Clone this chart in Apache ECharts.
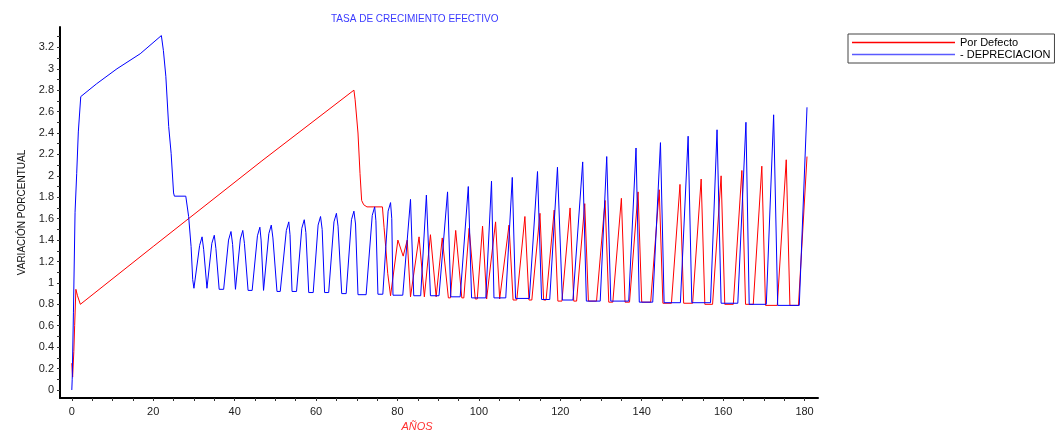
<!DOCTYPE html>
<html>
<head>
<meta charset="utf-8">
<script src="https://cdn.jsdelivr.net/npm/echarts@6/dist/echarts.min.js"></script>
<style>
html,body{margin:0;padding:0;background:#fff;}
#c{width:1056px;height:443px;}
</style>
</head>
<body>
<div id="c"></div>
<script>
// ---- data (vertices) ----
const depX = [0,0.1,0.4,0.8,1.2,1.6,2.2,6.1,11.1,16.8,22.0,22.5,23.1,23.8,24.4,25.0,25.2,28.0,28.7,29.3,29.7,30.0,
  31.4,32.0,32.4,33.2, 34.4,35.0,35.4,36.2,37.3, 38.5,39.1,39.5,40.2, 41.4,42.0,42.4,43.3,44.3, 45.6,46.2,46.5,47.1,
  48.4,49.0,49.4,50.4,51.2, 52.7,53.3,53.6,54.1,55.2, 56.5,57.1,57.5,58.2,59.3, 60.5,61.1,61.5,62.1,63.1,
  64.4,65.0,65.4,66.3,67.4, 68.7,69.3,69.7,70.3,72.3, 73.8,74.4,74.7,75.2,76.4, 77.7,78.3,78.6,78.9,81.3,
  83.2,84.0,85.7,87.1,88.1,90.2,92.3,93.1,95.4,97.4,98.2,101.7,
  103.1,103.7,106.6,108.2,109.0,112.4,114.4,115.4,117.4,119.3,120.5,123.1,125.5,126.4,129.8,131.4,132.4,136.8,138.6,139.4,142.7,
  144.6,145.5,149.5,151.4,152.3,156.9,158.5,159.5,163.6,165.6,166.4,170.6,172.4,173.4,178.7,180.6];
const depY = [0,0.1,0.72,1.66,2.02,2.41,2.74,2.86,3.0,3.14,3.31,3.17,2.93,2.46,2.21,1.84,1.81,1.81,1.62,1.34,1.03,0.95,
  1.35,1.43,1.31,0.95, 1.37,1.445,1.32,0.94,0.94, 1.40,1.48,1.36,0.94, 1.41,1.49,1.37,0.93,0.93, 1.44,1.52,1.40,0.93,
  1.46,1.54,1.42,0.92,0.92, 1.49,1.57,1.45,0.92,0.92, 1.51,1.59,1.47,0.91,0.91, 1.54,1.62,1.50,0.91,0.91,
  1.57,1.65,1.53,0.90,0.90, 1.59,1.67,1.55,0.89,0.89, 1.63,1.71,1.58,0.894,0.894, 1.67,1.75,1.60,0.885,0.885,
  1.78,0.88,0.88,1.82,0.88,0.88,1.85,0.87,0.87,1.90,0.86,0.86,
  1.95,0.86,0.86,1.985,0.855,0.855,2.04,0.845,0.845,2.08,0.84,0.84,2.13,0.83,0.83,2.18,0.83,0.83,2.26,0.82,0.82,
  2.31,0.815,0.815,2.37,0.815,0.815,2.43,0.81,0.81,2.50,0.80,0.80,2.57,0.79,0.79,2.64];

const defX = [0,0.2,0.5,0.7,1.0,1.4,2.1,20,46.7,69.3,69.6,70.3,70.8,71.2,71.7,72.5,76.3,76.7,77.1,77.6,78.3,80.1,81.4,82.4,83.2,
  85.3,86.6,88.1,89.5,91.0,92.5,93.0,94.3,95.8,96.3,97.6,99.1,99.6,100.9,101.9,102.1,104.1,105.1,105.4,107.4,108.4,109.3,111.3,
  112.3,113.0,115.0,115.9,116.5,118.5,119.4,120.4,122.4,123.3,124.0,126.0,126.9,128.9,131.0,131.9,132.9,135.0,135.9,137.0,139.1,
  140.0,142.2,144.3,145.2,147.3,149.4,150.3,152.5,154.6,155.5,157.4,159.5,160.4,162.5,164.6,165.5,167.4,169.5,170.4,173.3,175.5,
  176.4,178.5,180.6];
const defY = [0.25,0.12,0.36,0.6,0.94,0.88,0.80,1.34,2.14,2.80,2.71,2.40,2.02,1.77,1.73,1.71,1.71,1.52,1.34,1.09,0.88,1.40,1.25,1.40,0.87,
  1.43,0.87,1.45,0.87,1.42,0.86,0.86,1.49,0.86,0.86,1.51,0.85,0.85,1.53,0.85,0.85,1.57,0.85,0.85,1.54,0.84,0.84,1.62,
  0.84,0.84,1.65,0.84,0.84,1.68,0.83,0.83,1.70,0.83,0.83,1.74,0.83,0.83,1.77,0.82,0.82,1.79,0.82,0.82,1.85,
  0.82,0.82,1.87,0.81,0.81,1.92,0.81,0.81,1.97,0.80,0.80,2.00,0.80,0.80,2.05,0.80,0.80,2.09,0.79,0.79,2.15,
  0.79,0.79,2.18];

const seriesNames = ['Por Defecto', '- DEPRECIACION'];
const xLabelValues = [0,20,40,60,80,100,120,140,160,180];
const xTickValues = [0,5,10,15,20,25,30,35,40,45,50,55,60,65,70,75,80,85,90,95,100,105,110,115,120,125,130,135,140,145,150,155,160,165,170,175,180];
const yLabelValues = [0,0.2,0.4,0.6,0.8,1,1.2,1.4,1.6,1.8,2,2.2,2.4,2.6,2.8,3,3.2];
const yTickValues = [0,0.1,0.2,0.3,0.4,0.5,0.6,0.7,0.8,0.9,1,1.1,1.2,1.3,1.4,1.5,1.6,1.7,1.8,1.9,2,2.1,2.2,2.3,2.4,2.5,2.6,2.7,2.8,2.9,3,3.1,3.2,3.3];

function pairs(xs, ys){ return xs.map((x,i)=>[x, ys[i]]); }

const chart = echarts.init(document.getElementById('c'), null, {renderer:'canvas'});
const FONT = 'Liberation Sans, Arial, sans-serif';
chart.setOption({
  animation:false,
  backgroundColor:'#ffffff',
  title:{
    text:'TASA DE CRECIMIENTO EFECTIVO',
    left:326, top:9,
    textStyle:{color:'#3a3aff', fontSize:10, fontWeight:'normal', fontFamily:FONT}
  },
  legend:{
    orient:'vertical',
    left:848, top:34,
    padding:[3,4,3,4],
    itemGap:1,
    itemWidth:103, itemHeight:1.5,
    icon:'rect',
    borderColor:'#444', borderWidth:1,
    textStyle:{color:'#000', fontSize:11, fontFamily:FONT, padding:[0,0,0,0]},
    data:seriesNames
  },
  grid:{left:60, right:238, top:27, bottom:45, containLabel:false},
  xAxis:{
    type:'value', min:-2.9, max:183.3,
    name:'AÑOS', nameLocation:'middle', nameGap:22,
    nameTextStyle:{color:'#ff3030', fontStyle:'italic', fontSize:11, fontFamily:FONT, padding:[0,44,0,0]},
    axisLine:{show:true, onZero:false, lineStyle:{color:'#000', width:2}},
    axisTick:{show:true, length:3, customValues:xTickValues, lineStyle:{color:'#333'}},
    axisLabel:{customValues:xLabelValues, color:'#222', fontSize:11, fontFamily:FONT, margin:8},
    splitLine:{show:false}
  },
  yAxis:{
    type:'value', min:-0.075, max:3.39,
    name:'VARIACIÓN PORCENTUAL', nameLocation:'middle', nameRotate:90, nameGap:33,
    nameTextStyle:{color:'#111', fontSize:10, fontFamily:FONT},
    axisLine:{show:true, onZero:false, lineStyle:{color:'#000', width:2}},
    axisTick:{show:true, length:3, customValues:yTickValues, lineStyle:{color:'#333'}},
    axisLabel:{customValues:yLabelValues, color:'#222', fontSize:11, fontFamily:FONT, margin:6},
    splitLine:{show:false}
  },
  series:[
    {name:seriesNames[0], type:'line', data:pairs(defX, defY), showSymbol:false, symbol:'none',
     lineStyle:{color:'#ff0000', width:1}, itemStyle:{color:'#ff0000'}, z:2},
    {name:seriesNames[1], type:'line', data:pairs(depX, depY), showSymbol:false, symbol:'none',
     lineStyle:{color:'#0000ff', width:1}, itemStyle:{color:'#5a5aff'}, z:3}
  ]
});
</script>
</body>
</html>
